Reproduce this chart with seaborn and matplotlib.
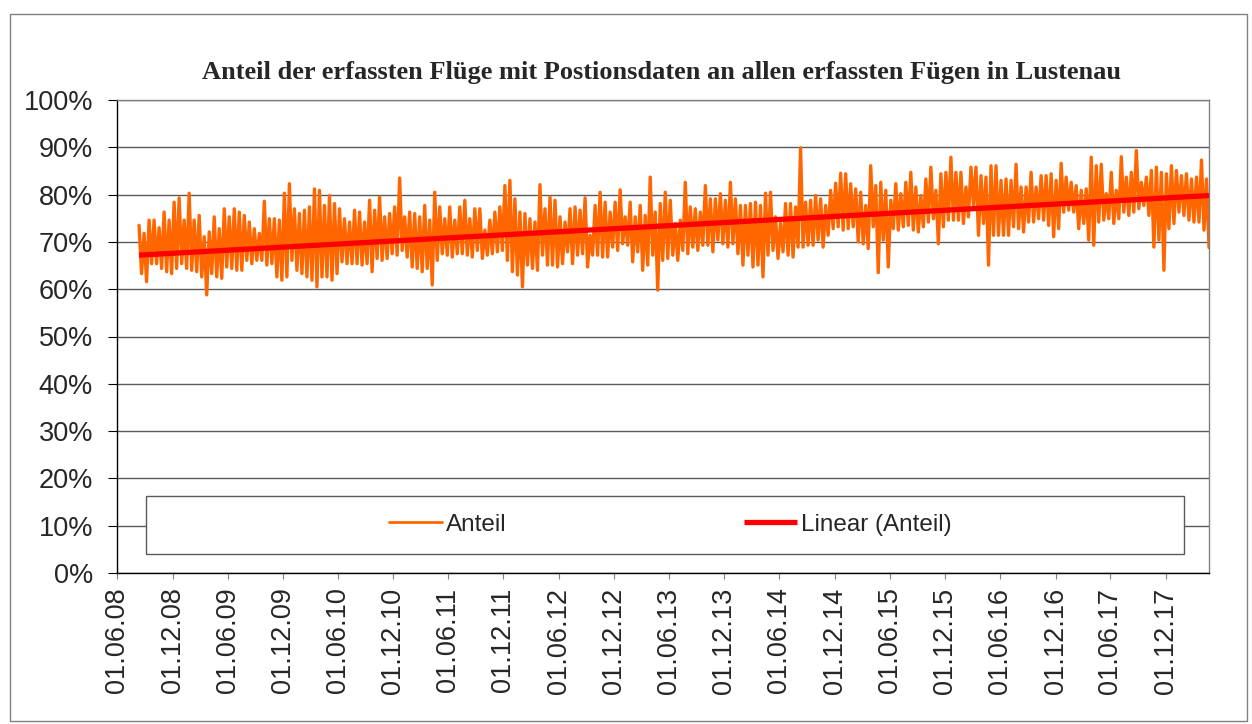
import numpy as np
import pandas as pd
import matplotlib
matplotlib.use("Agg")
import matplotlib.pyplot as plt
import matplotlib.dates as mdates
from matplotlib.patches import Rectangle
from matplotlib.ticker import PercentFormatter
import seaborn as sns

# Daten: je Abschnitt von ca. 16 Tagen Spitze und Tal in %
anteil_hoch = [
    73.5, 71.8, 74.6, 74.6, 73.0, 76.3, 74.6, 78.4, 79.3, 74.6, 80.3, 74.6, 75.6, 71.1,
    72.1, 75.3, 72.8, 77.0, 75.3, 77.0, 76.3, 75.6, 74.2, 72.8, 71.8, 78.6, 74.9, 74.9,
    74.6, 80.3, 82.3, 77.0, 76.0, 76.7, 77.4, 81.2, 80.9, 77.7, 79.8, 78.1, 77.0, 74.9,
    74.2, 76.7, 76.3, 74.2, 78.8, 76.7, 79.5, 75.3, 76.0, 77.4, 83.5, 75.3, 76.3, 76.0,
    75.3, 77.7, 74.6, 80.5, 77.4, 74.9, 77.4, 74.6, 77.4, 78.8, 74.9, 77.0, 77.0, 72.5,
    74.6, 76.3, 77.4, 81.9, 83.0, 79.1, 76.3, 76.0, 74.9, 74.2, 82.1, 77.0, 79.5, 78.8,
    75.3,
    74.2, 77.0, 77.4, 76.7, 79.3, 71.4, 77.7, 80.5, 78.4, 76.3, 78.4, 81.0, 75.3, 78.4,
    75.3, 77.7, 75.6, 83.7, 76.3, 78.1, 80.5, 78.8, 73.9, 74.6, 82.6, 77.4, 77.0, 76.3,
    81.9, 79.1, 79.1, 80.2, 78.8, 82.6, 79.1, 77.7, 77.7, 78.1, 78.4, 77.7, 80.3, 80.5,
    75.3,
    73.9, 78.1, 78.1, 77.4, 89.9, 78.4, 78.8, 79.8, 79.1, 77.7, 80.9, 82.4, 84.5, 84.4,
    82.3, 81.2, 80.5, 77.7, 86.1, 81.9, 82.6, 80.9, 78.8, 82.3, 80.2, 82.6, 84.7, 81.6,
    79.8, 83.3, 85.8, 80.9, 84.4, 84.7, 87.9, 84.7, 84.7, 81.6, 85.8, 85.8, 84.0, 83.7,
    86.1,
    86.1, 83.0, 83.3, 83.0, 86.4, 81.6, 81.6, 84.7, 81.6, 84.0, 84.0, 84.4, 83.0, 86.6,
    83.7, 82.6, 81.9, 80.9, 81.2, 87.9, 86.1, 86.4, 80.2, 84.7, 80.9, 88.0, 83.7, 84.7,
    89.3, 82.6, 83.7, 85.1, 85.8, 84.7, 84.4, 86.1, 85.1, 84.0, 84.4, 83.3, 83.7, 87.3,
    83.3,
]
anteil_tief = [
    63.3, 61.6, 65.4, 65.4, 64.4, 63.7, 63.3, 64.4, 65.4, 64.4, 64.0, 63.7, 62.6, 58.8,
    63.3, 62.6, 62.3, 64.7, 64.4, 64.0, 64.0, 66.1, 65.4, 66.1, 66.1, 65.1, 65.4, 62.6,
    61.9, 62.6, 66.1, 64.0, 63.3, 62.6, 61.9, 60.5, 62.6, 62.6, 61.9, 63.3, 65.8, 65.4,
    65.4, 65.4, 65.1, 65.4, 63.7, 66.5, 66.1, 66.5, 67.5, 67.2, 68.2, 66.8, 64.7, 64.4,
    63.7, 64.4, 60.9, 66.1, 67.5, 67.2, 66.8, 67.5, 67.5, 67.2, 66.8, 68.2, 66.5, 67.2,
    67.5, 67.9, 68.2, 66.1, 63.7, 63.0, 60.5, 65.1, 64.4, 64.0, 67.2, 65.1, 65.1, 64.7,
    65.4,
    67.9, 65.4, 67.2, 67.5, 64.7, 67.2, 67.2, 66.8, 66.8, 68.9, 68.2, 69.6, 69.3, 65.8,
    67.9, 64.0, 65.1, 67.2, 59.8, 66.1, 66.5, 67.2, 66.1, 68.2, 67.5, 68.9, 68.2, 69.3,
    69.3, 67.9, 70.4, 69.6, 68.9, 69.6, 67.5, 65.1, 67.2, 64.7, 65.1, 62.6, 67.2, 68.2,
    66.5,
    67.9, 67.2, 66.8, 68.9, 68.9, 69.3, 69.3, 70.4, 68.9, 71.4, 72.8, 73.2, 72.5, 72.8,
    73.2, 70.0, 69.6, 68.6, 73.2, 63.5, 70.4, 64.7, 72.8, 72.5, 73.2, 73.5, 72.5, 72.1,
    73.2, 74.2, 74.9, 69.6, 73.2, 74.6, 74.6, 74.6, 73.9, 75.3, 77.7, 71.4, 73.9, 65.1,
    71.4,
    71.4, 71.4, 71.4, 73.2, 72.8, 72.1, 74.2, 74.2, 74.9, 74.6, 73.5, 71.1, 72.8, 76.3,
    76.7, 76.3, 72.8, 73.9, 70.4, 69.3, 74.2, 74.6, 74.9, 73.9, 74.9, 76.3, 75.6, 76.3,
    77.0, 77.7, 75.6, 68.9, 70.4, 64.0, 72.8, 73.9, 76.3, 75.6, 74.6, 74.2, 74.2, 72.5,
    68.8,
]
datum_start = "2008-08-12"
datum_ende = "2018-04-23"

# Linearer Trend (Excel-Trendlinie), Anfangs- und Endwert in %
trend_werte = [67.2, 79.8]

achse_von = "2008-06-01"
achse_bis = "2018-04-23"
tick_daten = pd.date_range("2008-06-01", "2017-12-01", freq="6MS")

titel = "Anteil der erfassten Flüge mit Postionsdaten an allen erfassten Fügen in Lustenau"

werte = np.column_stack([anteil_hoch, anteil_tief]).ravel() / 100.0
df = pd.DataFrame({
    "Datum": pd.date_range(datum_start, datum_ende, periods=len(werte)),
    "Anteil": werte,
})
df_trend = pd.DataFrame({
    "Datum": pd.to_datetime([datum_start, datum_ende]),
    "Anteil": np.array(trend_werte) / 100.0,
})

sns.set_style("white")
plt.rcParams["font.family"] = ["Liberation Sans", "DejaVu Sans"]

fig = plt.figure(figsize=(12.52, 7.24), dpi=100)
ax = fig.add_axes([117.3 / 1252, 151 / 724, (1209 - 117.3) / 1252, 473 / 724])

ax.grid(axis="y", color="#5a5a5a", linewidth=1.0)
ax.set_axisbelow(True)

sns.lineplot(data=df, x="Datum", y="Anteil", ax=ax, color="#FF6600",
             linewidth=2.4, label="Anteil", zorder=2)
sns.lineplot(data=df_trend, x="Datum", y="Anteil", ax=ax, color="#FF0000",
             linewidth=3.8, label="Linear (Anteil)", zorder=3,
             solid_capstyle="butt")

ax.set_ylim(0, 1)
ax.set_yticks(np.arange(0, 1.01, 0.1))
ax.yaxis.set_major_formatter(PercentFormatter(1.0, decimals=0))
ax.set_xlim(pd.Timestamp(achse_von), pd.Timestamp(achse_bis))
ax.set_xticks(tick_daten)
ax.xaxis.set_major_formatter(mdates.DateFormatter("%d.%m.%y"))
ax.set_xlabel("")
ax.set_ylabel("")

ax.tick_params(axis="y", direction="out", length=6.5, width=0.8, color="#000000",
               pad=11, labelsize=19.5, left=True)
ax.tick_params(axis="x", direction="out", length=4.5, width=0.8, color="#808080",
               pad=6, labelsize=19.5, labelrotation=90, bottom=True)

for side in ["left", "bottom"]:
    ax.spines[side].set_color("#000000")
    ax.spines[side].set_linewidth(1.0)
for side in ["top", "right"]:
    ax.spines[side].set_color("#808080")
    ax.spines[side].set_linewidth(1.0)

# Legendenrahmen über den Gitterlinien
ax.add_patch(Rectangle((0.0263, 0.040), 0.9508, 0.123, transform=ax.transAxes,
                       facecolor="white", edgecolor="#5a5a5a", linewidth=1.0, zorder=4))
leg = ax.legend(loc="center", bbox_to_anchor=(0.5065, 0.1015), ncol=2, frameon=False,
                fontsize=17.5, handlelength=2.18, handletextpad=0.16, columnspacing=9.8)
leg.set_zorder(5)
leg.get_lines()[0].set_linewidth(2.0)

fig.text(662 / 1252, 1 - 73 / 724, titel, ha="center", va="center",
         fontsize=19, fontweight="bold", family=["Liberation Serif", "DejaVu Serif"])

fig.patches.append(Rectangle((10 / 1252, 3 / 724), 1237 / 1252, 707 / 724,
                             transform=fig.transFigure, fill=False,
                             edgecolor="#808080", linewidth=1.0))

fig.savefig("out.png", dpi=100)
